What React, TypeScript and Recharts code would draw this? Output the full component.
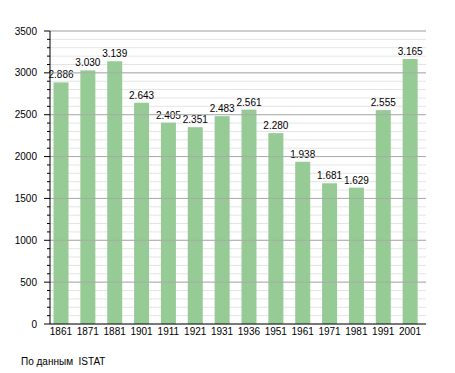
import React from 'react'
import { BarChart, Bar, XAxis, YAxis, CartesianGrid, ReferenceLine } from 'recharts'

const years = ['1861', '1871', '1881', '1901', '1911', '1921', '1931', '1936', '1951', '1961', '1971', '1981', '1991', '2001']
const population = [2886, 3030, 3139, 2643, 2405, 2351, 2483, 2561, 2280, 1938, 1681, 1629, 2555, 3165]

// every 100 gets a small tick, every 500 a label and a darker line
const yTicks = [
   0, 100, 200, 300, 400, 500, 600, 700, 800, 900, 1000, 1100, 1200, 1300, 1400, 1500, 1600, 1700,
   1800, 1900, 2000, 2100, 2200, 2300, 2400, 2500, 2600, 2700, 2800, 2900, 3000, 3100, 3200, 3300,
   3400, 3500,
]
const majorTicks = [500, 1000, 1500, 2000, 2500, 3000, 3500]

const data = years.map((year, i) => ({ year, value: population[i] }))

const font = 'Liberation Sans, Arial, sans-serif'
const SHIFT = 2.5

const fmt = (v: any) => {
   const n = Number(v)
   const rest = String(n % 1000).padStart(3, '0')
   return n >= 1000 ? `${Math.floor(n / 1000)}.${rest}` : String(n)
}

const YTick = (props: any) => {
   const { x, y, payload } = props
   const major = payload.value % 500 === 0
   return (
      <g>
         <line x1={x - (major ? 6 : 3)} x2={x} y1={y} y2={y} stroke="#000" />
         {major && (
            <text x={x - 13} y={y} dy={3.5} textAnchor="end" fontSize={10} fontFamily={font} fill="#000">
               {payload.value}
            </text>
         )}
      </g>
   )
}

const XTick = (props: any) => {
   const { x, y, payload } = props
   return (
      <text x={x - SHIFT} y={y} dy={8} textAnchor="middle" fontSize={10} fontFamily={font} fill="#000">
         {payload.value}
      </text>
   )
}

const BarShape = (props: any) => {
   const { x, y, width, height, value } = props
   return (
      <g>
         <rect x={x - SHIFT} y={y} width={width} height={height} fill="#96cb96" />
         <text x={x - SHIFT + width / 2} y={y - 4} textAnchor="middle" fontSize={10} fontFamily={font} fill="#000">
            {fmt(Array.isArray(value) ? value[1] : value)}
         </text>
      </g>
   )
}

const App = () => {
   return (
      <div style={{ position: 'absolute', left: 0, top: 0, width: 455, height: 373, background: '#fff' }}>
         <BarChart
            width={455}
            height={345}
            data={data}
            margin={{ top: 31, right: 29, left: 0, bottom: 1 }}
            barCategoryGap={6}
         >
            <CartesianGrid vertical={false} stroke="#e4e4e4" />
            {majorTicks.map((t) => (
               <ReferenceLine key={t} y={t} stroke="#aaaaaa" />
            ))}
            <XAxis
               dataKey="year"
               height={20}
               tickLine={false}
               tickSize={0}
               tickMargin={3}
               stroke="#000"
               tick={<XTick />}
               interval={0}
            />
            <YAxis
               width={50}
               domain={[0, 3500]}
               ticks={yTicks}
               interval={0}
               tickLine={false}
               tickSize={0}
               tickMargin={0}
               stroke="#000"
               tick={<YTick />}
            />
            <Bar dataKey="value" shape={<BarShape />} isAnimationActive={false} />
         </BarChart>
         <div style={{ position: 'absolute', left: 21, top: 356, fontSize: 10, fontFamily: font, color: '#000', whiteSpace: 'pre' }}>
            По данным  ISTAT
         </div>
      </div>
   )
}

export default App
